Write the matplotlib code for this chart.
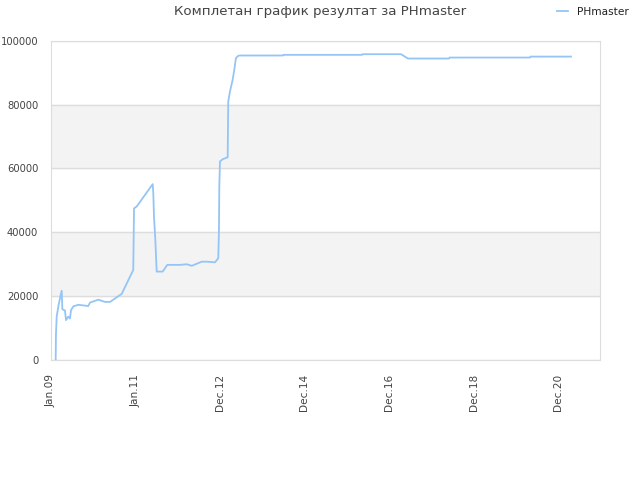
import matplotlib
matplotlib.use('Agg')
import matplotlib.pyplot as plt

# position along the x axis, in tick steps (0 = Jan.09, 1 = Jan.11, ...)
period = [0.059, 0.062, 0.071, 0.090, 0.110, 0.130, 0.138, 0.169, 0.181, 0.208,
          0.228, 0.240, 0.268, 0.326, 0.444, 0.465, 0.563, 0.642, 0.701, 0.839,
          0.976, 0.985, 1.017, 1.206, 1.213, 1.221, 1.236, 1.253, 1.324, 1.378,
          1.528, 1.608, 1.667, 1.785, 1.844, 1.942, 1.981, 1.989, 1.993, 2.001,
          2.033, 2.092, 2.099, 2.119, 2.151, 2.170, 2.190, 2.217, 2.238, 2.746,
          2.752, 3.680, 3.686, 4.141, 4.223, 4.708, 4.714, 5.665, 5.671, 6.150]
score = [0, 7800, 13600, 16700, 19400, 21700, 15900, 15500, 12500, 13600,
         13000, 15600, 16800, 17300, 16900, 18000, 18900, 18200, 18200, 20700,
         28200, 47500, 48100, 55100, 52200, 44900, 38100, 27700, 27700, 29800,
         29800, 30000, 29500, 30800, 30800, 30600, 31900, 40800, 54300, 62200,
         62900, 63500, 81000, 84100, 87800, 90900, 94600, 95300, 95400, 95400,
         95600, 95600, 95800, 95800, 94450, 94450, 94750, 94750, 95050, 95050]

tick_pos = [0, 1, 2, 3, 4, 5, 6]
tick_labels = ['Jan.09', 'Jan.11', 'Dec.12', 'Dec.14', 'Dec.16', 'Dec.18', 'Dec.20']
y_ticks = [0, 20000, 40000, 60000, 80000, 100000]

text_color = '#444444'
grid_color = '#dddddd'

fig = plt.figure(figsize=(6.4, 4.8), dpi=100)
ax = fig.add_axes([0.0792, 0.25, 0.9375 - 0.0792, 0.915 - 0.25])

# alternating bands
for i in range(len(y_ticks) - 1):
    if i % 2 == 1:
        ax.axhspan(y_ticks[i], y_ticks[i + 1], color='#f3f3f3', zorder=0)
for y in y_ticks:
    ax.axhline(y, color=grid_color, lw=1, zorder=1)

line, = ax.plot(period, score, color='#94c5f6', lw=1.3, zorder=3, label='PHmaster')

ax.set_xlim(0, 6.493)
ax.set_ylim(0, 100000)
ax.set_xticks(tick_pos)
ax.set_xticklabels(tick_labels, rotation=90)
ax.set_yticks(y_ticks)
ax.set_yticklabels([str(v) for v in y_ticks])
ax.tick_params(axis='y', length=0, labelsize=7.2, colors=text_color, pad=9)
ax.tick_params(axis='x', length=0, labelsize=7.6, colors=text_color, pad=10)
for s in ax.spines.values():
    s.set_color(grid_color)

fig.text(0.5, 0.975, 'Комплетан график резултат за PHmaster', ha='center', va='center',
         fontsize=9.6, color=text_color)
fig.legend(handles=[line], loc='center left', bbox_to_anchor=(0.855, 0.975), frameon=False,
           fontsize=7.6, handlelength=1.1, handletextpad=0.8, labelcolor='#222222')

fig.savefig('out.png', dpi=100)
